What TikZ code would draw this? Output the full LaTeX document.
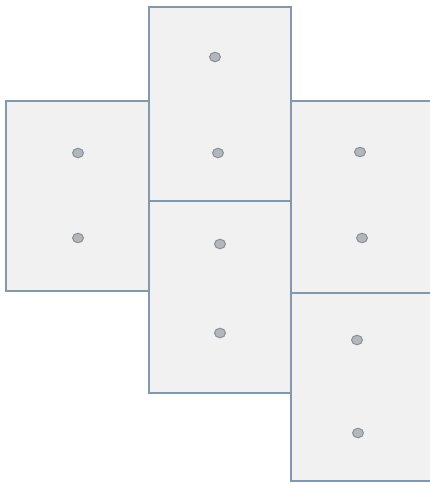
\documentclass[tikz,border=0pt]{standalone}
\usepackage{tikz}
\usetikzlibrary{positioning,shapes.geometric}
\usepackage{xcolor}
\definecolor{edge}{HTML}{8498AC}
\definecolor{pane}{HTML}{F1F1F2}
\definecolor{pin}{HTML}{B3B7BB}
\definecolor{pinline}{HTML}{86919B}

\begin{document}
\begin{tikzpicture}[x=1pt,y=-1pt,
    panel/.style={draw=edge,fill=pane,line width=1.8pt,rectangle,inner sep=0pt,anchor=north west},
    dot/.style={draw=pinline,fill=pin,line width=1pt,ellipse,minimum width=11pt,minimum height=9.5pt,inner sep=0pt}]
  \useasboundingbox (0,0) rectangle (430,484);
  \clip (0,0) rectangle (430,484);
  % panels: name/left/top/width/height
  \foreach \n/\x/\y/\w/\h in {pA/5/100/143/190,pB/148/6/142/194,pC/148/200/142/192,
                              pD/290/100/142/192,pE/290/292/142/188} {
    \node[panel,minimum width=\w pt,minimum height=\h pt] (\n) at (\x,\y) {};
  }
  % pins
  \foreach \n/\x/\y in {a1/78/153,a2/78/238,b1/215/57,b2/218/153,c1/220/244,c2/220/333,
                        d1/360/152,d2/362/238,e1/357/340,e2/358/433} {
    \node[dot] (\n) at (\x,\y) {};
  }
\end{tikzpicture}
\end{document}
